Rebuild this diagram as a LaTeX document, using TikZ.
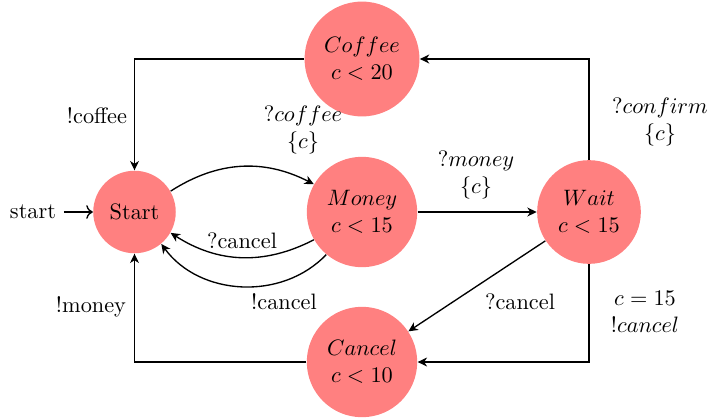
\documentclass[tikz,border=0pt]{standalone}
\usetikzlibrary{arrows.meta}
\begin{document}
\begin{tikzpicture}[x=0.4484pt,y=-0.4484pt,
  state/.style={circle,fill=red!50,draw=none,inner sep=0pt,align=center},
  edge/.style={-{Stealth[length=4.2pt,width=4pt,inset=1.3pt]},line width=0.6pt},
  lbl/.style={align=center,inner sep=0pt}]
\useasboundingbox (0,0) rectangle (707,418);
\node[state,minimum size=37pt] (S) at (134.5,212) {Start};
\node[state,minimum size=49.5pt] (M) at (362,212) {$Money$\\$c<15$};
\node[state,minimum size=51.5pt] (C) at (362,59) {$Coffee$\\$c<20$};
\node[state,minimum size=46.5pt] (W) at (589,212) {$Wait$\\$c<15$};
\node[state,minimum size=49.5pt] (X) at (362,362) {$Cancel$\\$c<10$};
\node (init) at (33,212) {start};
\draw[->,line width=0.6pt] (init) -- (S);

\draw[edge] (S) to[bend left=30] (M);
\draw[edge] (M) to[bend left=30] (S);
\draw[edge] (M) to[bend left=50] (S);
\draw[edge] (M) -- (W);
\draw[edge] (W) -- (X);
\draw[edge] (W) |- (X);
\draw[edge] (W) |- (C);
\draw[edge] (C) -| (S);
\draw[edge] (X) -| (S);

\node[lbl] (l1) at (97,116) {!coffee};
\node[lbl] (l2) at (91,307) {!money};
\node[lbl] (l3) at (303,130) {$?coffee$\\$\{c\}$};
\node[lbl] (l4) at (476,175) {$?money$\\$\{c\}$};
\node[lbl] (l5) at (660,122) {$?confirm$\\$\{c\}$};
\node[lbl] (l6) at (645,312) {$c=15$\\$!cancel$};
\node[lbl] (l7) at (520,302) {?cancel};
\node[lbl] (l8) at (242,241) {?cancel};
\node[lbl] (l9) at (284,302) {!cancel};
\end{tikzpicture}
\end{document}
